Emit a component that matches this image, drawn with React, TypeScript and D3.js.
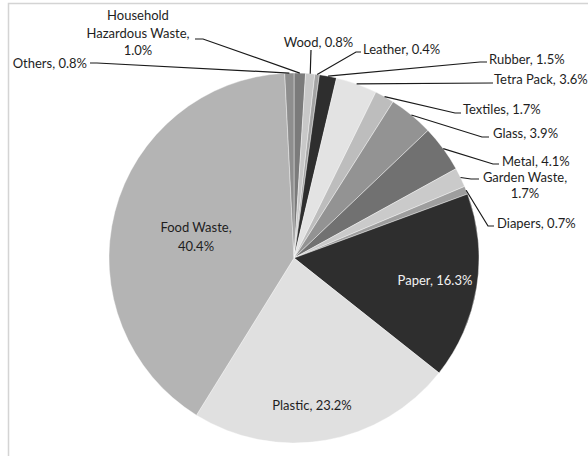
import React from "react";
import * as d3 from "d3";

const categories = [
  "Household Hazardous Waste",
  "Wood",
  "Leather",
  "Rubber",
  "Tetra Pack",
  "Textiles",
  "Glass",
  "Metal",
  "Garden Waste",
  "Diapers",
  "Paper",
  "Plastic",
  "Food Waste",
  "Others",
];
const shares = [1.0, 0.8, 0.4, 1.5, 3.6, 1.7, 3.9, 4.1, 1.7, 0.7, 16.3, 23.2, 40.4, 0.8];
const sliceColors = [
  "#7b7b7b", "#c8c8c8", "#a3a3a3", "#2e2e2e", "#e3e3e3", "#bdbdbd", "#939393",
  "#717171", "#cacaca", "#9e9e9e", "#2e2e2e", "#e0e0e0", "#b4b4b4", "#8e8e8e",
];
// label line breaks
const labelLines: string[][] = [
  ["Household", "Hazardous Waste,", "{v}"],
  ["Wood, {v}"],
  ["Leather, {v}"],
  ["Rubber, {v}"],
  ["Tetra Pack, {v}"],
  ["Textiles, {v}"],
  ["Glass, {v}"],
  ["Metal, {v}"],
  ["Garden Waste,", "{v}"],
  ["Diapers, {v}"],
  ["Paper, {v}"],
  ["Plastic, {v}"],
  ["Food Waste,", "{v}"],
  ["Others, {v}"],
];

type Layout = {
  x: number;
  y: number;
  anchor: "start" | "middle" | "end";
  lh?: number;
  end?: [number, number];
  elbow?: [number, number];
  fill?: string;
};

const layout: Layout[] = [
  { x: 138, y: 15, anchor: "middle", lh: 17.5, end: [203, 39], elbow: [195, 39] },
  { x: 318.5, y: 42, anchor: "middle", end: [311, 50] },
  { x: 363, y: 49, anchor: "start", end: [356, 52], elbow: [361, 52] },
  { x: 489, y: 59, anchor: "start", end: [480, 62], elbow: [487, 62] },
  { x: 494, y: 79, anchor: "start", end: [493, 83] },
  { x: 463, y: 109, anchor: "start", end: [455, 113], elbow: [461, 113] },
  { x: 493, y: 133, anchor: "start", end: [482, 137], elbow: [489, 137] },
  { x: 502, y: 161, anchor: "start", end: [493, 164], elbow: [499, 164] },
  { x: 525, y: 177, anchor: "middle", lh: 16, end: [471, 179], elbow: [479, 179] },
  { x: 497, y: 223, anchor: "start", end: [488, 226], elbow: [494, 226] },
  { x: 435, y: 280, anchor: "middle", fill: "#f2f2f2" },
  { x: 312, y: 405, anchor: "middle" },
  { x: 196, y: 227, anchor: "middle", lh: 19 },
  { x: 87, y: 63, anchor: "end", end: [97, 63], elbow: [90, 63] },
];

const W = 588;
const H = 456;
const cx = 294;
const cy = 258;
const R = 185;

export default function App() {
  const data = categories.map((c, i) => ({ name: c, value: shares[i], i }));
  const pie = d3
    .pie<any>()
    .sort(null)
    .value((d) => d.value)
    .startAngle(0)
    .endAngle(2 * Math.PI);
  const arcs = pie(data);
  const arc = d3.arc<any>().innerRadius(0).outerRadius(R);
  const font = "Lato, 'Open Sans', sans-serif";

  return (
    <svg
      width={W}
      height={H}
      style={{ position: "absolute", left: 0, top: 0, background: "#fff" }}
    >
      <rect x={8.5} y={3.5} width={620} height={520} fill="#fff" stroke="#d4d4d4" strokeWidth={1.5} />
      <g transform={`translate(${cx},${cy})`}>
        {arcs.map((a) => (
          <path key={a.data.name} d={arc(a) as string} fill={sliceColors[a.data.i]} stroke="#fff" strokeWidth={0.4} />
        ))}
      </g>
      {arcs.map((a) => {
        const L = layout[a.data.i];
        if (!L.end) return null;
        const mid = (a.startAngle + a.endAngle) / 2;
        const px = cx + R * Math.sin(mid);
        const py = cy - R * Math.cos(mid);
        const pts: [number, number][] = [[px, py], L.end];
        if (L.elbow) pts.push(L.elbow);
        return (
          <polyline
            key={"l" + a.data.name}
            points={pts.map((p) => p.join(",")).join(" ")}
            fill="none"
            stroke="#1a1a1a"
            strokeWidth={1.2}
          />
        );
      })}
      {arcs.map((a) => {
        const L = layout[a.data.i];
        const v = a.data.value.toFixed(1) + "%";
        const lines = labelLines[a.data.i].map((s) => s.replace("{v}", v));
        return (
          <text
            key={"t" + a.data.name}
            x={L.x}
            y={L.y}
            textAnchor={L.anchor}
            dominantBaseline="central"
            fontFamily={font}
            fontSize={13}
            fill={L.fill || "#1e1e1e"}
          >
            {lines.map((s, k) => (
              <tspan key={k} x={L.x} y={L.y + k * (L.lh || 17)}>
                {s}
              </tspan>
            ))}
          </text>
        );
      })}
    </svg>
  );
}
